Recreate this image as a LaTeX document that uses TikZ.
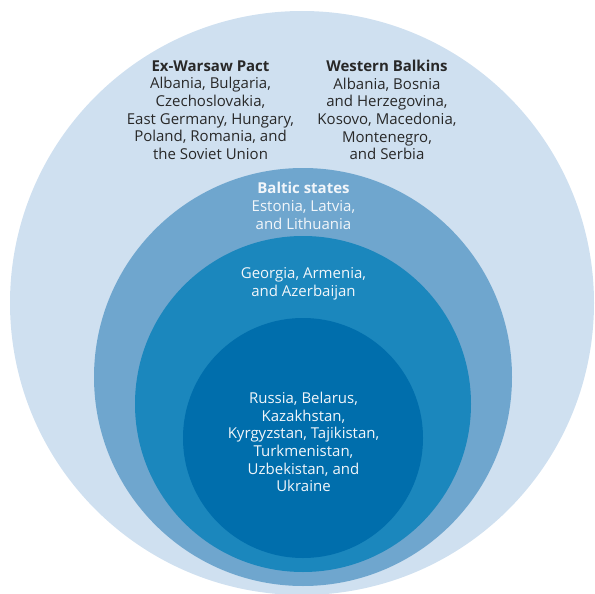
\documentclass[tikz,border=0pt]{standalone}
\usepackage{fontspec}
\setmainfont{Open Sans}
\definecolor{ringA}{RGB}{207,224,240}
\definecolor{ringB}{RGB}{111,166,206}
\definecolor{ringC}{RGB}{27,135,189}
\definecolor{ringD}{RGB}{0,110,172}
\definecolor{darktext}{RGB}{40,40,40}
\definecolor{lighttext}{RGB}{242,246,250}
\tikzset{
  blocktext/.style={align=center, inner sep=0pt, font=\fontsize{15}{17.7}\selectfont},
  darkblock/.style={blocktext, text=darktext},
  lightblock/.style={blocktext, text=lighttext},
}
\begin{document}
\begin{tikzpicture}[x=1pt, y=-1pt]
\useasboundingbox (0,0) rectangle (595,594);
\fill[ringA] (302,303) circle (292);
\fill[ringB] (303,377) circle (209);
\fill[ringC] (303,404) circle (168);
\fill[ringD] (303,438) circle (120);
\node[darkblock] (warsaw) at (210.5,110) {\textbf{Ex-Warsaw Pact}\\Albania, Bulgaria,\\Czechoslovakia,\\East Germany, Hungary,\\Poland, Romania, and\\the Soviet Union};
\node[darkblock] (balkans) at (387,110) {\textbf{Western Balkins}\\Albania, Bosnia\\and Herzegovina,\\Kosovo, Macedonia,\\Montenegro,\\and Serbia};
\node[lightblock] (baltic) at (303.5,206) {\textbf{Baltic states}\\Estonia, Latvia,\\and Lithuania};
\node[lightblock] (caucasus) at (303.5,283.5) {Georgia, Armenia,\\and Azerbaijan};
\node[lightblock] (core) at (303.5,442) {Russia, Belarus,\\Kazakhstan,\\Kyrgyzstan, Tajikistan,\\Turkmenistan,\\Uzbekistan, and\\Ukraine};
\end{tikzpicture}
\end{document}
